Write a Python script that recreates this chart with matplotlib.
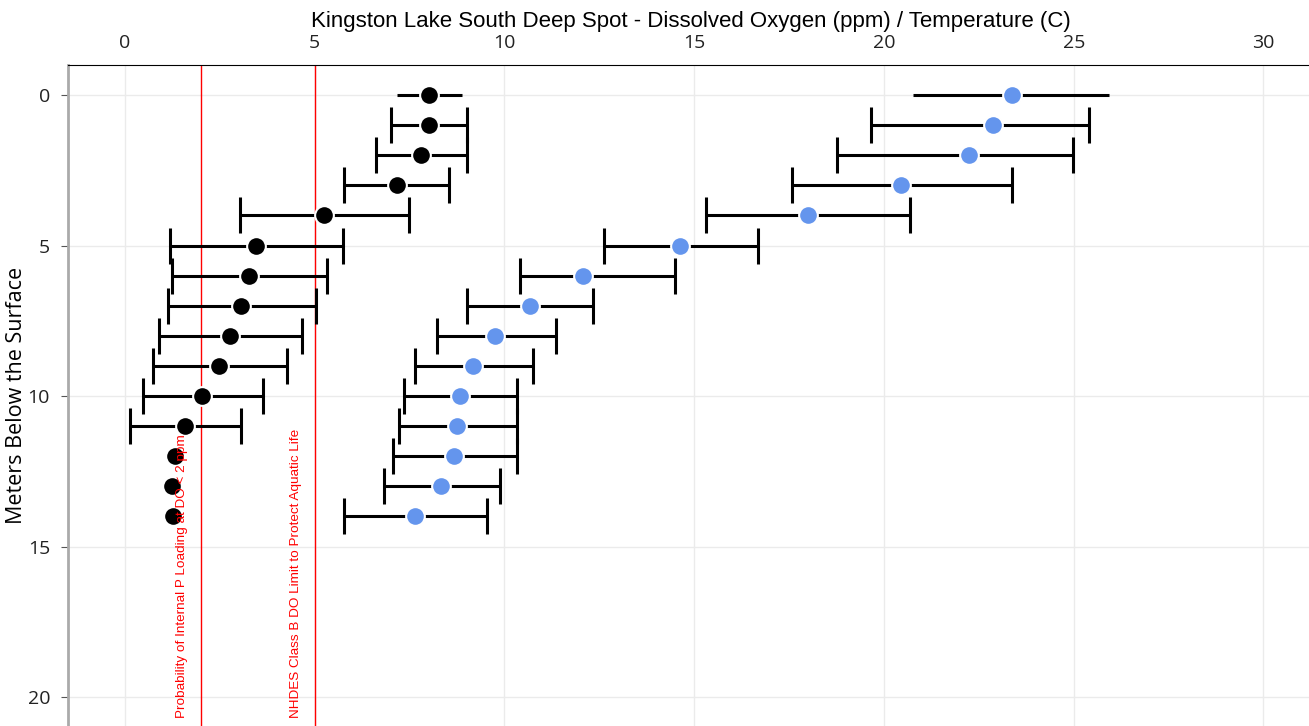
import numpy as np
import matplotlib.pyplot as plt

depth = [0, 1, 2, 3, 4, 5, 6, 7, 8, 9, 10, 11, 12, 13, 14]
do_mean = [8.02, 8.0, 7.81, 7.18, 5.25, 3.46, 3.27, 3.06, 2.77, 2.48, 2.03, 1.58, 1.32, 1.24, 1.27]
do_low = [7.18, 7.02, 6.62, 5.78, 3.03, 1.19, 1.24, 1.13, 0.9, 0.74, 0.47, 0.13, 1.32, 1.24, 1.27]
do_high = [8.87, 9.0, 9.0, 8.55, 7.49, 5.75, 5.33, 5.04, 4.67, 4.27, 3.64, 3.06, 1.32, 1.24, 1.27]
temp_mean = [23.38, 22.88, 22.24, 20.45, 17.99, 14.62, 12.08, 10.66, 9.74, 9.18, 8.84, 8.76, 8.68, 8.34, 7.65]
temp_low = [20.77, 19.66, 18.76, 17.57, 15.30, 12.61, 10.42, 9.02, 8.21, 7.63, 7.36, 7.23, 7.07, 6.83, 5.78]
temp_high = [25.94, 25.41, 24.99, 23.38, 20.69, 16.68, 14.49, 12.32, 11.35, 10.74, 10.32, 10.32, 10.32, 9.87, 9.55]
limits = [2, 5]
limit_labels = ['Probability of Internal P Loading at DO < 2 ppm',
                'NHDES Class B DO Limit to Protect Aquatic Life']

fig = plt.figure(figsize=(13.09, 7.26), dpi=100)
ax = fig.add_axes([0.052, 0.0, 0.948, 0.9105])

d = np.array(depth)

def draw(mean, low, high, color):
    mean, low, high = np.array(mean), np.array(low), np.array(high)
    err = [mean - low, high - mean]
    has = (high - low) > 0
    # first row has no caps in the reference
    first = np.zeros(len(d), bool)
    first[0] = True
    rest = has & ~first
    ax.errorbar(mean[first], d[first], xerr=[err[0][first], err[1][first]], fmt='none',
                ecolor='black', elinewidth=2.2, capsize=0, zorder=2)
    ax.errorbar(mean[rest], d[rest], xerr=[err[0][rest], err[1][rest]], fmt='none',
                ecolor='black', elinewidth=2.2, capsize=13, capthick=2.2, zorder=2)
    ax.plot(mean, d, 'o', color=color, markersize=13.5, markeredgecolor='white',
            markeredgewidth=1.5, zorder=3)

draw(do_mean, do_low, do_high, 'black')
draw(temp_mean, temp_low, temp_high, '#6495ED')

for x, lab in zip(limits, limit_labels):
    ax.axvline(x, color='red', linewidth=1, zorder=1)
    ax.text(x - 0.5, 20.7, lab, rotation=90, color='red', fontsize=9.7,
            family='Liberation Sans', ha='center', va='bottom')

ax.set_xlim(-1.5, 31.2)
ax.set_ylim(20.96, -1.0)
ax.set_xticks([0, 5, 10, 15, 20, 25, 30])
ax.set_yticks([0, 5, 10, 15, 20])
ax.xaxis.tick_top()
ax.grid(True, color='#ebebeb', linewidth=1)
ax.set_axisbelow(True)
for s in ['right', 'bottom']:
    ax.spines[s].set_visible(False)
ax.spines['top'].set_color('black')
ax.spines['left'].set_color('#aaaaaa')
ax.spines['left'].set_linewidth(2)
ax.tick_params(axis='x', length=0, pad=9, labelsize=14, labelcolor='#222222')
ax.tick_params(axis='y', length=5, color='#555555', pad=8, labelsize=14, labelcolor='#222222')
for t in ax.get_xticklabels() + ax.get_yticklabels():
    t.set_family('Open Sans')
fig.text(17 / 1309, 1 - 395 / 726, 'Meters Below the Surface', rotation=90,
         ha='center', va='center', fontsize=15.5, family='Open Sans')
fig.text(0.528, 0.97, 'Kingston Lake South Deep Spot - Dissolved Oxygen (ppm) / Temperature (C)',
         ha='center', va='center', fontsize=16, family='Liberation Sans')

fig.savefig('out.png', dpi=100)
